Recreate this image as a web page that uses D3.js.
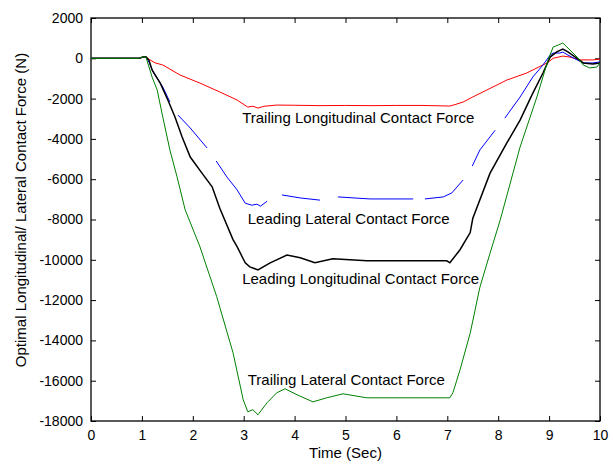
<!DOCTYPE html>
<html>
<head>
<meta charset="utf-8">
<script src="https://cdn.jsdelivr.net/npm/d3@7"></script>
<style>
    body { margin: 0; background: #fff; }
    svg { font-family: "Liberation Sans", Arial, sans-serif; }
</style>
</head>
<body>
<svg id="chart"></svg>
<script>
    //-------------------
    // DATA
    //-------------------
    var xTicks = [0, 1, 2, 3, 4, 5, 6, 7, 8, 9, 10];
    var yTicks = [2000, 0, -2000, -4000, -6000, -8000, -10000, -12000, -14000, -16000, -18000];

    // [time, force]
    var trailingLongitudinal = [
        [0, 0], [0.95, 0], [1.03, 60], [1.08, 60], [1.15, -60], [1.26, -230], [1.41, -330],
        [1.75, -830], [2.14, -1230], [2.53, -1670], [2.87, -2070], [3.08, -2420], [3.18, -2380],
        [3.28, -2470], [3.4, -2380], [3.65, -2320], [4.0, -2330], [4.5, -2350], [5, -2340],
        [5.5, -2350], [6, -2340], [6.5, -2340], [7.05, -2370], [7.15, -2300], [7.31, -2170],
        [7.5, -1920], [7.78, -1570], [8.17, -1080], [8.56, -730], [8.96, -230], [9.08, 0],
        [9.27, 110], [9.41, 60], [9.6, -80], [9.86, -80], [10, -40]
    ];

    // null marks the breaks in the drawn line
    var leadingLateral = [
        [0, 0], [0.95, 0], [1.03, 70], [1.08, 70], [1.14, -200], [1.22, -680], [1.41, -1420],
        [1.55, -2170], [1.6, null],
        [1.71, -2820], [1.95, -3460], [2.28, -4450], [2.35, null],
        [2.46, -5100], [2.67, -5890], [2.87, -6530], [3.03, -7190], [3.16, -7290], [3.26, -7240],
        [3.33, -7340], [3.46, -7090], [3.6, null],
        [3.75, -6780], [4.11, -6930], [4.5, -7040], [4.7, null],
        [4.85, -6880], [5.48, -6980], [6.33, -6980], [6.45, null],
        [6.56, -6980], [6.92, -6880], [7.09, -6680], [7.31, -6040], [7.4, null],
        [7.49, -5350], [7.64, -4550], [7.94, -3570], [8.0, null],
        [8.13, -2970], [8.43, -1920], [8.68, -930], [8.88, -330], [9.02, 160], [9.08, 260],
        [9.21, 260], [9.27, 310], [9.37, 160], [9.55, -80], [9.67, -230], [9.86, -230], [10, -180]
    ];

    var leadingLongitudinal = [
        [0, 0], [0.95, 0], [1.03, 80], [1.08, 80], [1.14, -100], [1.2, -580], [1.36, -1230],
        [1.51, -2070], [1.65, -2910], [1.79, -3910], [1.95, -4900], [2.18, -5700], [2.38, -6380],
        [2.53, -7440], [2.79, -9000], [2.87, -9350], [3.03, -10150], [3.12, -10350], [3.28, -10500],
        [3.52, -10150], [3.85, -9760], [4.11, -9900], [4.4, -10150], [4.75, -9950], [5.42, -10050],
        [6.07, -10050], [6.99, -10050], [7.05, -10150], [7.25, -9500], [7.45, -8650], [7.5, -7950],
        [7.84, -5700], [8.17, -4200], [8.43, -3070], [8.68, -1730], [8.88, -730], [9.02, 60],
        [9.15, 320], [9.27, 460], [9.37, 320], [9.55, 0], [9.67, -230], [9.86, -280], [10, -230]
    ];

    var trailingLateral = [
        [0, 0], [0.95, 0], [1.03, 80], [1.08, 60], [1.2, -930], [1.3, -1570], [1.41, -2910],
        [1.55, -4550], [1.69, -5880], [1.85, -7520], [2.14, -9350], [2.47, -11830], [2.79, -14610],
        [2.99, -16940], [3.08, -17540], [3.18, -17440], [3.28, -17690], [3.46, -17090],
        [3.65, -16600], [3.81, -16400], [4.05, -16700], [4.36, -17050], [4.63, -16850],
        [4.95, -16650], [5.42, -16850], [6.07, -16850], [6.99, -16850], [7.05, -16850],
        [7.11, -16600], [7.25, -15460], [7.45, -13640], [7.64, -11360], [7.84, -9670],
        [8.04, -8020], [8.43, -4400], [8.76, -1920], [8.98, -80], [9.08, 560], [9.18, 660],
        [9.27, 760], [9.35, 560], [9.55, 60], [9.67, -330], [9.8, -480], [9.94, -430], [10, -230]
    ];

    var seriesLabels = [
        "Trailing Longitudinal Contact Force",
        "Leading Lateral Contact Force",
        "Leading Longitudinal Contact Force",
        "Trailing Lateral Contact Force"
    ];
    // anchor point of each label, in data units [time, force]
    var labelAnchors = [[2.97, -2950], [3.08, -7970], [2.97, -10950], [3.08, -15970]];

    //-------------------
    // LAYOUT
    //-------------------
    var width = 613, height = 464;
    var margin = { top: 18, right: 13, bottom: 43, left: 91 };

    var svg = d3.select("#chart")
        .attr("width", width)
        .attr("height", height);

    var x = d3.scaleLinear().domain([0, 10]).range([margin.left, width - margin.right]);
    var y = d3.scaleLinear().domain([-18000, 2000]).range([height - margin.bottom, margin.top]);

    var fmt = d => String(d);

    //-------------------
    // AXES (ticks inward, box)
    //-------------------
    svg.append("g")
        .attr("transform", "translate(0," + y(-18000) + ")")
        .call(d3.axisBottom(x).tickValues(xTicks).tickFormat(fmt).tickSizeInner(-5).tickSizeOuter(0).tickPadding(9));
    svg.append("g")
        .attr("transform", "translate(0," + y(2000) + ")")
        .call(d3.axisTop(x).tickValues(xTicks).tickFormat("").tickSizeInner(-5).tickSizeOuter(0));
    svg.append("g")
        .attr("transform", "translate(" + x(0) + ",0)")
        .call(d3.axisLeft(y).tickValues(yTicks).tickFormat(fmt).tickSizeInner(-5).tickSizeOuter(0).tickPadding(8));
    svg.append("g")
        .attr("transform", "translate(" + x(10) + ",0)")
        .call(d3.axisRight(y).tickValues(yTicks).tickFormat("").tickSizeInner(-5).tickSizeOuter(0));

    svg.selectAll(".domain").remove();
    svg.selectAll(".tick line").attr("stroke", "#000");
    svg.selectAll(".tick text").attr("fill", "#000").style("font-size", "14px");

    svg.append("rect")
        .attr("x", x(0)).attr("y", y(2000))
        .attr("width", x(10) - x(0)).attr("height", y(-18000) - y(2000))
        .attr("fill", "none").attr("stroke", "#000").attr("stroke-width", 1.3);

    //-------------------
    // LINES
    //-------------------
    var line = d3.line()
        .defined(d => d[1] !== null)
        .x(d => x(d[0]))
        .y(d => y(d[1]));

    var series = [
        { data: trailingLongitudinal, color: "#ff0000", w: 1 },
        { data: leadingLateral, color: "#0000ff", w: 1 },
        { data: leadingLongitudinal, color: "#000000", w: 1.5 },
        { data: trailingLateral, color: "#008000", w: 1 }
    ];

    svg.selectAll("path.series")
        .data(series)
        .enter()
        .append("path")
        .attr("class", "series")
        .attr("fill", "none")
        .attr("stroke", d => d.color)
        .attr("stroke-width", d => d.w)
        .attr("d", d => line(d.data));

    //-------------------
    // LABELS
    //-------------------
    svg.selectAll("text.label")
        .data(seriesLabels)
        .enter()
        .append("text")
        .attr("class", "label")
        .attr("x", (d, i) => x(labelAnchors[i][0]))
        .attr("y", (d, i) => y(labelAnchors[i][1]))
        .attr("dy", "0.35em")
        .style("font-size", "15px")
        .text(d => d);

    svg.append("text")
        .attr("x", (x(0) + x(10)) / 2)
        .attr("y", 458)
        .attr("text-anchor", "middle")
        .style("font-size", "15px")
        .text("Time (Sec)");

    svg.append("text")
        .attr("transform", "translate(26,210) rotate(-90)")
        .attr("text-anchor", "middle")
        .style("font-size", "15px")
        .text("Optimal Longitudinal/ Lateral Contact Force (N)");
</script>
</body>
</html>
